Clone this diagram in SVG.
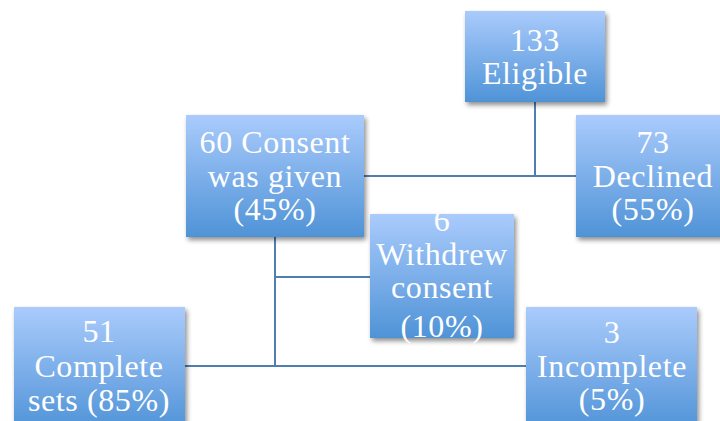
<svg xmlns="http://www.w3.org/2000/svg" width="720" height="421" viewBox="0 0 720 421">
<defs>
<linearGradient id="g" x1="0" y1="0" x2="0" y2="1">
<stop offset="0" stop-color="#aacbfc"/>
<stop offset="1" stop-color="#4f93d7"/>
</linearGradient>
<filter id="sh" x="-10%" y="-10%" width="130%" height="130%">
<feGaussianBlur in="SourceAlpha" stdDeviation="2.5"/>
<feOffset dx="2" dy="3" result="b"/>
<feComponentTransfer><feFuncA type="linear" slope="0.45"/></feComponentTransfer>
<feMerge><feMergeNode/><feMergeNode in="SourceGraphic"/></feMerge>
</filter>
</defs>
<style>
.box{fill:url(#g);filter:url(#sh);}
.t{font-family:"Liberation Serif","Times New Roman",serif;font-size:32px;letter-spacing:0.6px;fill:#ffffff;text-anchor:middle;}
.c{stroke:#4f7eb3;stroke-width:2;fill:none;}
</style>
<rect width="720" height="421" fill="#ffffff"/>
<g id="connectors">
<path class="c" d="M535 102 V176 M364 176 H576"/>
<path class="c" d="M275 237 V366 M275 277 H370 M185 366 H526"/>
</g>
<g id="eligible">
<rect class="box" x="465" y="11" width="140" height="91"/>
<text class="t" x="535" y="51">133</text>
<text class="t" x="535" y="84">Eligible</text>
</g>
<g id="declined">
<rect class="box" x="576" y="115" width="154" height="122"/>
<text class="t" x="653" y="153">73</text>
<text class="t" x="653" y="187">Declined</text>
<text class="t" x="653" y="220">(55%)</text>
</g>
<g id="consent">
<rect class="box" x="186" y="115" width="178" height="122"/>
<text class="t" x="275" y="153">60 Consent</text>
<text class="t" x="275" y="187">was given</text>
<text class="t" x="275" y="220">(45%)</text>
</g>
<g id="withdrew">
<rect class="box" x="370" y="214" width="144" height="124"/>
<text class="t" x="442" y="231">6</text>
<text class="t" x="442" y="265">Withdrew</text>
<text class="t" x="442" y="298">consent</text>
<text class="t" x="442" y="337">(10%)</text>
</g>
<g id="complete">
<rect class="box" x="14" y="307" width="171" height="124"/>
<text class="t" x="99" y="342">51</text>
<text class="t" x="99" y="377">Complete</text>
<text class="t" x="99" y="411">sets (85%)</text>
</g>
<g id="incomplete">
<rect class="box" x="526" y="307" width="171" height="124"/>
<text class="t" x="612" y="343">3</text>
<text class="t" x="612" y="377">Incomplete</text>
<text class="t" x="612" y="410">(5%)</text>
</g>
</svg>
